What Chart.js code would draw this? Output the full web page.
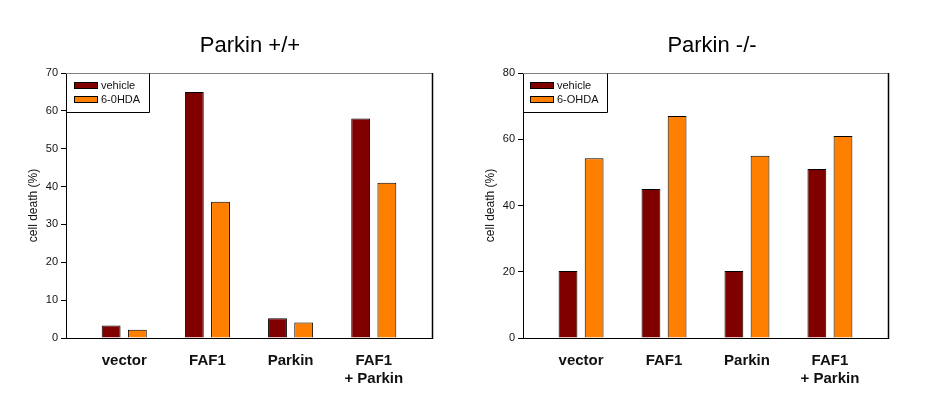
<!DOCTYPE html>
<html><head><meta charset="utf-8">
<script src="https://cdn.jsdelivr.net/npm/chart.js@4/dist/chart.umd.min.js"></script>
<style>
html,body{margin:0;padding:0;background:#fff;}
#wrap{position:relative;width:927px;height:400px;overflow:hidden;background:#fff;}
canvas{position:absolute;top:0;}
#c1{left:0;} #c2{left:463px;}
</style></head><body>
<div id="wrap"><canvas id="c1" width="463" height="400"></canvas><canvas id="c2" width="464" height="400"></canvas></div>
<script>
// ---- data ----
const categories = ['vector', 'FAF1', 'Parkin', ['FAF1', '+ Parkin']];
const wtSeriesNames = ['vehicle', '6-0HDA'];
const koSeriesNames = ['vehicle', '6-OHDA'];
const wtVehicle = [3.3, 65, 5.2, 58];
const wt6OHDA   = [2.2, 36, 4.1, 41];
const koVehicle = [20.2, 45, 20.2, 51];
const ko6OHDA   = [54.3, 67, 55, 61];
const wtYTicks = [0, 10, 20, 30, 40, 50, 60, 70];
const koYTicks = [0, 20, 40, 60, 80];
const chartTitles = ['Parkin +/+', 'Parkin -/-'];
const yAxisTitle = 'cell death (%)';

const FONT = "'Liberation Sans', Arial, sans-serif";
const COLORS = ['#800000', '#FF8000'];

function toPoints(arr) { return arr.map((v, i) => ({ x: i + 1, y: v })); }

function makeChart(canvasId, o) {
  const framePlugin = {
    id: 'frame',
    afterLayout(chart) {
      chart.titleBlock.left += o.titleShift;
      chart.titleBlock.right += o.titleShift;
    },
    afterDraw(chart) {
      const ctx = chart.ctx, a = chart.chartArea;
      ctx.save();
      ctx.lineWidth = 1;
      ctx.strokeStyle = '#808080';
      ctx.beginPath(); ctx.moveTo(a.left, a.top + 0.5); ctx.lineTo(a.right + 1, a.top + 0.5); ctx.stroke();
      ctx.strokeStyle = '#000';
      ctx.lineWidth = 1.5;
      ctx.beginPath(); ctx.moveTo(a.right + 0.5, a.top); ctx.lineTo(a.right + 0.5, a.bottom + 1); ctx.stroke();
      // legend box
      const L = a.left + 0.5, T = a.top + 0.5, W = o.legendW, H = 39;
      ctx.lineWidth = 1;
      ctx.beginPath(); ctx.moveTo(L + W, T); ctx.lineTo(L + W, T + H); ctx.lineTo(L, T + H); ctx.stroke();
      ctx.font = '11px ' + FONT;
      ctx.textBaseline = 'middle';
      ctx.textAlign = 'left';
      chart.data.datasets.forEach((ds, i) => {
        const y = Math.round(a.top + 8.5 + i * 14.5);
        ctx.fillStyle = ds.backgroundColor;
        ctx.fillRect(a.left + o.swX, y, 24, 7);
        ctx.strokeStyle = '#000';
        ctx.strokeRect(a.left + o.swX + 0.5, y + 0.5, 23, 6);
        ctx.fillStyle = '#111';
        ctx.fillText(ds.label, a.left + o.swX + 27, y + 4);
      });
      ctx.restore();
    }
  };

  return new Chart(document.getElementById(canvasId), {
    type: 'bar',
    data: {
      datasets: o.series.map((s, i) => ({
        label: o.names[i],
        data: toPoints(s),
        backgroundColor: COLORS[i],
        borderColor: '#000',
        borderWidth: 1,
        categoryPercentage: 0.63,
        barPercentage: 0.72
      }))
    },
    options: {
      responsive: false,
      devicePixelRatio: 1,
      animation: false,
      events: [],
      layout: { padding: { left: 0, right: o.padRight, top: 0, bottom: 0 } },
      plugins: {
        legend: { display: false },
        tooltip: { enabled: false },
        title: {
          display: true, text: o.title, fullSize: false, color: '#000',
          font: { family: FONT, size: 22, weight: 'normal' },
          padding: { top: 33, bottom: 13.6 }
        }
      },
      scales: {
        x: {
          type: 'linear', min: 0.3, max: 4.7, bounds: 'data', offset: false,
          afterBuildTicks: s => { s.ticks = categories.map((c, i) => ({ value: i + 1 })); },
          afterFit: s => { s.height = 62; },
          grid: { display: true, drawOnChartArea: false, drawTicks: false, offset: false },
          border: { display: true, color: '#000', width: 1 },
          ticks: {
            callback: v => categories[Math.round(v) - 1],
            font: { family: FONT, size: 15, weight: 'bold', lineHeight: 1.2 },
            color: '#111', padding: 14, maxRotation: 0, autoSkip: false
          }
        },
        y: {
          min: o.yTicks[0], max: o.yTicks[o.yTicks.length - 1],
          afterBuildTicks: s => { s.ticks = o.yTicks.map(v => ({ value: v })); },
          afterFit: s => { s.width = o.yWidth; },
          grid: { drawOnChartArea: false, drawTicks: true, tickLength: 5, color: '#000' },
          border: { display: true, color: '#000', width: 1 },
          ticks: { font: { family: FONT, size: 11 }, color: '#111', padding: 3 },
          title: {
            display: true, text: yAxisTitle, color: '#111',
            font: { family: FONT, size: 12 },
            padding: { top: o.yTitlePad, bottom: 0 }
          }
        }
      }
    },
    plugins: [framePlugin]
  });
}

makeChart('c1', {
  series: [wtVehicle, wt6OHDA], names: wtSeriesNames, yTicks: wtYTicks,
  title: chartTitles[0], padRight: 31, yWidth: 66, yTitlePad: 26,
  titleShift: 1, legendW: 83, swX: 8
});
makeChart('c2', {
  series: [koVehicle, ko6OHDA], names: koSeriesNames, yTicks: koYTicks,
  title: chartTitles[1], padRight: 39, yWidth: 60, yTitlePad: 20,
  titleShift: 6.5, legendW: 84, swX: 7
});
</script>
</body></html>
